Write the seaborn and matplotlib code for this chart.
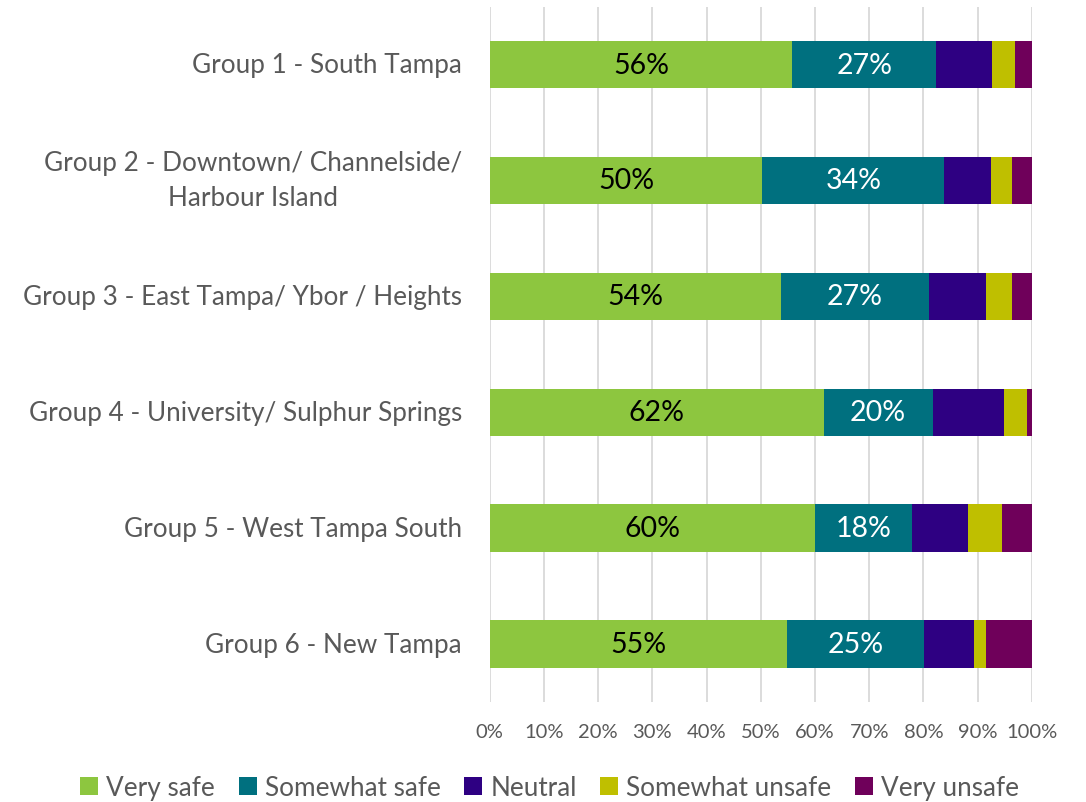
import matplotlib
matplotlib.use("Agg")
import matplotlib.pyplot as plt
import seaborn as sns
import numpy as np
import pandas as pd
from matplotlib.patches import Patch

groups = [
    "Group 1 - South Tampa",
    "Group 2 - Downtown/ Channelside/\nHarbour Island",
    "Group 3 - East Tampa/ Ybor / Heights",
    "Group 4 - University/ Sulphur Springs",
    "Group 5 - West Tampa South",
    "Group 6 - New Tampa",
]
series_names = ["Very safe", "Somewhat safe", "Neutral", "Somewhat unsafe", "Very unsafe"]
very_safe = [55.8, 50.3, 53.8, 61.6, 60.0, 54.8]
somewhat_safe = [26.6, 33.6, 27.2, 20.1, 17.9, 25.4]
neutral = [10.2, 8.5, 10.6, 13.1, 10.3, 9.2]
somewhat_unsafe = [4.4, 4.0, 4.7, 4.3, 6.3, 2.1]
very_unsafe = [3.0, 3.6, 3.7, 0.9, 5.5, 8.5]
xtick_vals = [0, 10, 20, 30, 40, 50, 60, 70, 80, 90, 100]

colors = ["#8DC63F", "#00707F", "#2E0082", "#BFBF00", "#6F005A"]
text_gray = "#595959"

sns.set_theme(style="white")
plt.rcParams["font.family"] = ["Lato", "DejaVu Sans"]

values = [very_safe, somewhat_safe, neutral, somewhat_unsafe, very_unsafe]
cum = np.cumsum(np.array(values), axis=0)

fig = plt.figure(figsize=(10.86, 8.03), dpi=100)
ax = fig.add_axes([0.451, 0.1245, 0.499, 0.866])

# draw from the outermost cumulative to innermost to create stacking
for i in range(len(series_names) - 1, -1, -1):
    df = pd.DataFrame({"group": groups, "value": cum[i]})
    sns.barplot(data=df, x="value", y="group", orient="h", color=colors[i],
                saturation=1, width=0.41, ax=ax, zorder=3, edgecolor="none")

# labels for first two series
for j in range(len(groups)):
    ax.text(very_safe[j] / 2, j, f"{round(very_safe[j])}%", ha="center", va="center",
            fontsize=20.5, color="black", zorder=5)
    ax.text(very_safe[j] + somewhat_safe[j] / 2, j, f"{round(somewhat_safe[j])}%",
            ha="center", va="center", fontsize=20.5, color="white", zorder=5)

ax.set_xlim(0, 100)
ax.set_ylim(5.5, -0.5)
ax.set_xticks(xtick_vals)
ax.set_xticklabels([f"{v}%" for v in xtick_vals], fontsize=14.5, color=text_gray)
ax.set_yticklabels(groups, fontsize=18.8, color=text_gray, ha="right", va="center",
                   multialignment="center", linespacing=1.5)
ax.tick_params(axis="y", length=0, pad=20)
ax.tick_params(axis="x", length=0, pad=15)
ax.set_xlabel("")
ax.set_ylabel("")
for s in ax.spines.values():
    s.set_visible(False)
ax.grid(axis="x", color="#D9D9D9", linewidth=1.3, zorder=0)
ax.grid(axis="y", visible=False)
ax.set_axisbelow(True)

handles = [Patch(facecolor=c, edgecolor="none") for c in colors]
leg = fig.legend(handles, series_names, loc="center", bbox_to_anchor=(0.506, 0.018),
                 ncol=5, frameon=False, fontsize=18.8, handlelength=0.7, handleheight=0.7,
                 handletextpad=0.3, columnspacing=0.9, borderaxespad=0)
for t in leg.get_texts():
    t.set_color(text_gray)

fig.savefig("out.png", dpi=100)
